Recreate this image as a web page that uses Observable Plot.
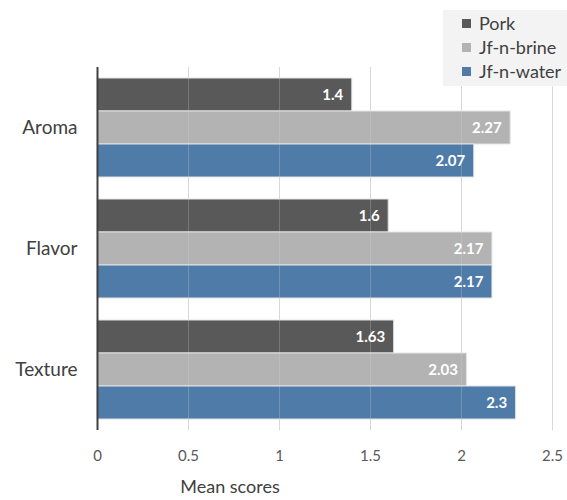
<!DOCTYPE html>
<html>
<head>
<meta charset="utf-8">
<script src="https://cdn.jsdelivr.net/npm/d3@7"></script>
<script src="https://cdn.jsdelivr.net/npm/@observablehq/plot@0.6"></script>
<style>
  html, body { margin: 0; padding: 0; background: #fff; }
  #wrap { position: relative; width: 567px; height: 500px; overflow: hidden; font-family: Lato, "Open Sans", sans-serif; }
  #legend { position: absolute; left: 443px; top: 10px; width: 124px; height: 76px; background: #f3f3f3; }
  .li { position: absolute; left: 19px; height: 22px; line-height: 22px; display: flex; align-items: center; font-size: 18px; color: #404040; white-space: nowrap; }
  .sw { width: 9px; height: 9px; margin-right: 8px; }
  #xlabel { position: absolute; top: 477px; left: 0; width: 460px; text-align: center; font-size: 18px; line-height: 18px; color: #404040; }
</style>
</head>
<body>
<div id="wrap"></div>
<script>
const categories = ["Aroma", "Flavor", "Texture"];
const series = ["Pork", "Jf-n-brine", "Jf-n-water"];
const colors = ["#595959", "#b3b3b3", "#4e7ba8"];
const pork = [1.4, 1.6, 1.63];
const brine = [2.27, 2.17, 2.03];
const water = [2.07, 2.17, 2.3];
const xTicks = [0, 0.5, 1, 1.5, 2, 2.5];

const valuesBySeries = [pork, brine, water];
const data = [];
categories.forEach((c, i) => {
  series.forEach((s, j) => data.push({category: c, series: s, value: valuesBySeries[j][i]}));
});

const chart = Plot.plot({
  width: 567,
  height: 470,
  marginLeft: 97,
  marginRight: 15,
  marginTop: 67,
  marginBottom: 40,
  style: {fontFamily: "Lato, 'Open Sans', sans-serif", background: "transparent"},
  fy: {domain: categories, padding: 0, label: null, tickSize: 0, tickPadding: 20, axis: "left"},
  y: {domain: series, paddingInner: 0, paddingOuter: 0.333, axis: null},
  x: {domain: [0, 2.5], ticks: xTicks, tickFormat: d => String(d), label: null, tickSize: 0, tickPadding: 20},
  color: {domain: series, range: colors},
  marks: [
    Plot.gridX(xTicks, {stroke: "#d9d9d9", strokeOpacity: 1}),
    Plot.barX(data, {fy: "category", y: "series", x: "value", fill: "series", stroke: "#e3e3e3", strokeWidth: 1}),
    Plot.gridX(xTicks, {stroke: "#d9d9d9", strokeOpacity: 0.25}),
    Plot.ruleX([0], {stroke: "#404040", strokeWidth: 2}),
    Plot.text(data, {fy: "category", y: "series", x: "value", text: d => String(d.value), textAnchor: "end", dx: -9, fill: "white", fontWeight: "bold", fontSize: 15})
  ]
});

chart.querySelectorAll("[aria-label='fy-axis tick label'] text, [aria-label='fy-axis'] text").forEach(t => { t.style.fontSize = "19px"; t.style.fill = "#404040"; });
chart.querySelectorAll("[aria-label='x-axis tick label'] text, [aria-label='x-axis'] text").forEach(t => { t.style.fontSize = "15px"; t.style.fill = "#595959"; });

const wrap = document.getElementById("wrap");
chart.style.position = "absolute";
chart.style.left = "0";
chart.style.top = "0";
wrap.appendChild(chart);

const legend = document.createElement("div");
legend.id = "legend";
series.forEach((s, j) => {
  const li = document.createElement("div");
  li.className = "li";
  li.style.top = (2 + j * 24) + "px";
  const sw = document.createElement("span");
  sw.className = "sw";
  sw.style.background = colors[j];
  li.appendChild(sw);
  li.appendChild(document.createTextNode(s));
  legend.appendChild(li);
});
wrap.appendChild(legend);

const xl = document.createElement("div");
xl.id = "xlabel";
xl.textContent = "Mean scores";
wrap.appendChild(xl);
</script>
</body>
</html>
